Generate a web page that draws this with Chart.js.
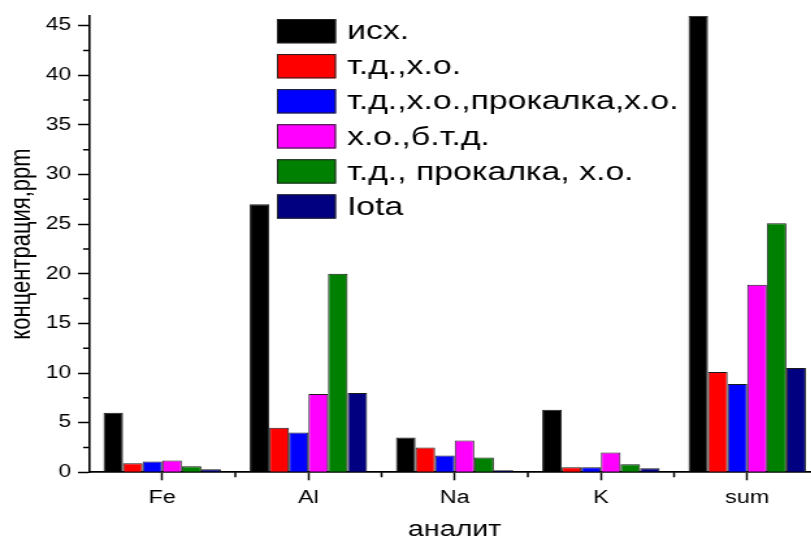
<!DOCTYPE html>
<html>
<head>
<meta charset="utf-8">
<script src="https://cdn.jsdelivr.net/npm/chart.js@4/dist/chart.umd.min.js"></script>
<style>
  html, body { margin: 0; padding: 0; background: #fff; overflow: hidden; width: 811px; height: 540px; }
  /* the figure is drawn narrow and widened horizontally */
  #wrap { width: 632px; height: 540px; transform: scaleX(1.3); transform-origin: 0 0; }
  canvas { display: block; }
</style>
</head>
<body>
<div id="wrap"><canvas id="c" width="632" height="540"></canvas></div>
<script>
// analytes
const categories = ['Fe', 'Al', 'Na', 'K', 'sum'];

// concentrations, ppm
const ishodn      = [6.0, 27.0, 3.5, 6.3, 46.0];
const tdXo        = [0.9, 4.5, 2.5, 0.5, 10.1];
const tdXoProkXo  = [1.1, 4.0, 1.7, 0.5, 8.9];
const xoBtd       = [1.2, 7.9, 3.2, 2.0, 18.9];
const tdProkXo    = [0.6, 20.0, 1.5, 0.8, 25.1];
const iota        = [0.3, 8.0, 0.2, 0.4, 10.5];

const seriesNames = ['исх.', 'т.д.,х.о.', 'т.д.,х.о.,прокалка,х.о.', 'х.о.,б.т.д.', 'т.д., прокалка, х.о.', 'Iota'];
const seriesData  = [ishodn, tdXo, tdXoProkXo, xoBtd, tdProkXo, iota];
const seriesColors = ['#000000', '#ff0000', '#0000ff', '#ff00ff', '#008000', '#000080'];

const yTickValues = [0, 5, 10, 15, 20, 25, 30, 35, 40, 45];

const FONT = '"Liberation Sans", Arial, sans-serif';

// minor tick marks on both axes
const minorTicks = {
  id: 'minorTicks',
  afterDraw(chart) {
    const { ctx, chartArea, scales: { x, y } } = chart;
    ctx.save();
    ctx.strokeStyle = '#000';
    ctx.lineWidth = 1.5;
    ctx.beginPath();
    for (let i = 0; i < yTickValues.length; i++) {
      const v = yTickValues[i] + 2.5;
      if (v >= y.max) break;
      const py = y.getPixelForValue(v);
      ctx.moveTo(chartArea.left - 4.6, py);
      ctx.lineTo(chartArea.left, py);
    }
    for (let i = 0; i < categories.length; i++) {
      const px = x.getPixelForValue(i + 0.5);
      ctx.moveTo(px, chartArea.bottom);
      ctx.lineTo(px, chartArea.bottom + 5);
    }
    ctx.stroke();
    ctx.restore();
  }
};

// boxed legend listed down the upper part of the plot
const boxLegend = {
  id: 'boxLegend',
  afterDraw(chart) {
    const { ctx } = chart;
    const x0 = 213, y0 = 19, step = 35.07, bw = 45.4, bh = 24.3;
    ctx.save();
    ctx.font = '26px ' + FONT;
    ctx.textBaseline = 'middle';
    ctx.textAlign = 'left';
    chart.data.datasets.forEach((ds, i) => {
      const top = y0 + i * step;
      ctx.fillStyle = ds.backgroundColor;
      ctx.fillRect(x0, top, bw, bh);
      ctx.strokeStyle = '#222';
      ctx.lineWidth = 1;
      ctx.strokeRect(x0 + 0.5, top + 0.5, bw - 1, bh - 1);
      ctx.fillStyle = '#000';
      ctx.fillText(ds.label, x0 + bw + 8.5, top + bh / 2 + 1);
    });
    ctx.restore();
  }
};

new Chart(document.getElementById('c'), {
  type: 'bar',
  data: {
    labels: categories,
    datasets: seriesNames.map((name, i) => ({
      label: name,
      data: seriesData[i],
      backgroundColor: seriesColors[i],
      borderColor: '#1a1a1a',
      borderWidth: 1,
      categoryPercentage: 0.803,
      barPercentage: 1.0
    }))
  },
  options: {
    responsive: false,
    animation: false,
    devicePixelRatio: 1,
    layout: { padding: { top: 15, left: 0, right: 1, bottom: 0 } },
    plugins: { legend: { display: false }, tooltip: { enabled: false } },
    scales: {
      x: {
        offset: true,
        afterFit(scale) { scale.height = 67.7; },
        grid: { display: true, offset: false, drawOnChartArea: false, drawTicks: true, tickLength: 8, tickWidth: 1.5, tickColor: '#000' },
        border: { display: true, color: '#000', width: 1.8 },
        ticks: { color: '#000', font: { family: FONT, size: 18 }, padding: 6.5, maxRotation: 0 },
        title: { display: true, text: 'аналит', color: '#000', font: { family: FONT, size: 22 }, padding: { top: 0, bottom: -3 } }
      },
      y: {
        min: 0,
        max: 46,
        afterFit(scale) { scale.width = 68.5; },
        afterBuildTicks(scale) { scale.ticks = yTickValues.map(v => ({ value: v })); },
        grid: { display: true, drawOnChartArea: false, drawTicks: true, tickLength: 8.5, tickWidth: 1.5, tickColor: '#000' },
        border: { display: true, color: '#000', width: 1.6 },
        ticks: { color: '#000', font: { family: FONT, size: 17.5 }, padding: 5.2 },
        title: { display: true, text: 'концентрация,ppm', color: '#000', font: { family: FONT, size: 22 }, padding: { top: 3.3, bottom: 0 } }
      }
    }
  },
  plugins: [minorTicks, boxLegend]
});
</script>
</body>
</html>
